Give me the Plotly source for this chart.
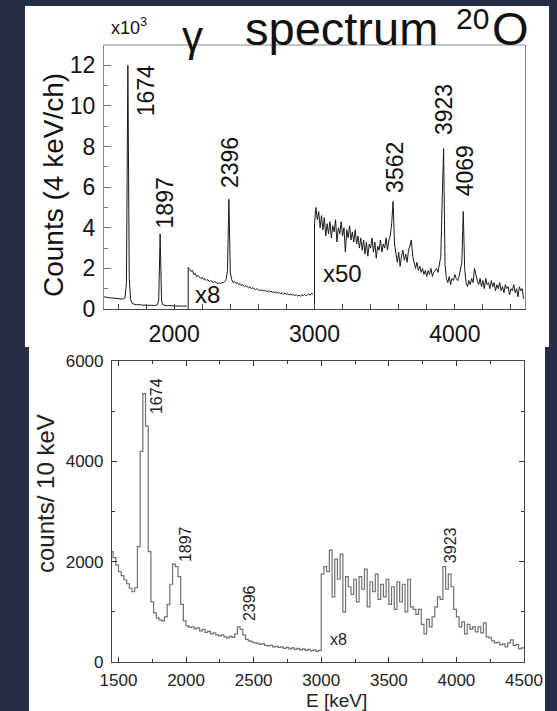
import numpy as np
import plotly.graph_objects as go

# ---------------- data ----------------
# Top panel: gamma spectrum 20O, counts (x10^3) per 4 keV channel, sampled every 10 keV
top_step = 10
seg1_start = 1500          # scale x1
seg1_vals = [0.60,0.58,0.57,0.57,0.55,0.55,0.54,0.53,0.53,0.52,
             0.51,0.50,0.50,0.49,0.50,0.55,1.30,12.0,1.50,0.45,
             0.28,0.24,0.22,0.21,0.22,0.20,0.21,0.19,0.20,0.18,
             0.19,0.18,0.19,0.17,0.18,0.18,0.17,0.18,0.20,0.45,
             3.70,0.40,0.20,0.18,0.17,0.16,0.17,0.16,0.16,0.15,
             0.16,0.15,0.15,0.14,0.15,0.14,0.14,0.15,0.13,0.14]
seg2_start = 2100          # scale x8
seg2_vals = [2.05,1.95,1.85,1.90,1.70,1.75,1.60,1.65,1.55,1.50,
             1.55,1.45,1.50,1.40,1.45,1.35,1.40,1.35,1.30,1.35,
             1.30,1.25,1.30,1.25,1.30,1.30,1.35,1.45,1.90,5.40,
             1.80,1.45,1.30,1.35,1.25,1.30,1.20,1.25,1.15,1.20,
             1.10,1.15,1.10,1.05,1.10,1.00,1.05,1.00,0.95,1.00,
             0.95,0.90,0.95,0.90,0.88,0.92,0.85,0.90,0.85,0.88,
             0.82,0.85,0.80,0.83,0.78,0.80,0.76,0.80,0.74,0.78,
             0.72,0.75,0.70,0.74,0.68,0.72,0.66,0.70,0.64,0.68,
             0.62,0.70,0.66,0.72,0.65,0.70,0.75,0.68,0.78,0.72]
seg3_start = 3000          # scale x50
seg3_vals = [4.20,5.00,4.40,4.80,4.00,4.60,3.90,4.50,3.60,4.20,
             3.70,4.30,3.50,4.10,3.80,4.40,3.30,4.00,3.70,4.30,
             3.60,4.00,2.80,3.90,3.50,4.10,3.40,3.80,3.30,3.90,
             3.20,3.60,3.00,3.50,2.90,3.40,2.70,3.30,2.60,3.20,
             3.00,3.50,2.80,3.30,2.50,3.10,2.90,3.40,2.80,3.20,
             3.00,3.50,2.90,3.40,3.60,4.20,5.30,3.20,2.60,2.30,
             2.80,2.10,2.60,2.90,2.40,2.70,2.30,2.90,3.10,3.40,
             2.60,2.20,2.00,2.30,1.90,2.10,1.80,2.00,1.70,1.90,
             1.60,1.90,1.70,2.00,1.60,1.80,1.90,2.00,1.80,2.30,
             2.60,5.40,7.90,2.20,1.50,1.30,1.60,1.20,1.50,1.40,
             1.70,1.50,1.40,1.60,1.90,2.30,4.80,2.00,1.30,1.10,
             1.40,1.20,1.50,1.30,2.00,1.60,1.40,1.20,1.50,1.10,
             1.40,1.00,1.50,1.20,1.30,1.00,1.40,1.10,1.30,0.90,
             1.20,1.00,1.30,0.90,1.10,0.80,1.20,1.00,1.10,0.70,
             1.00,0.90,1.20,0.80,1.00,0.60,1.10,0.90,1.00,0.50]
top_peaks = [1674, 1897, 2396, 3562, 3923, 4069]
top_peak_label_x = [1797, 1935, 2393, 3574, 3923, 4075]
top_peak_label_y = [10.75, 5.2, 7.2, 6.95, 9.8, 6.8]
top_xticks = [2000, 3000, 4000]
top_xminor = [1600, 1800, 2200, 2400, 2600, 2800, 3200, 3400, 3600, 3800, 4200, 4400]
top_yticks = [0, 2, 4, 6, 8, 10, 12]

# Bottom panel: counts / 10 keV, histogram with 20 keV steps
bot_start = 1440
bot_step = 20
bot_vals = [2200,2080,1930,1800,1720,1640,1560,1470,1400,1480,
            2300,4200,5350,4700,2200,1200,980,880,840,820,
            900,1150,1550,1950,1900,1700,1150,820,720,690,
            700,660,680,620,650,590,610,560,580,540,
            520,540,500,480,510,490,560,700,650,540,
            450,420,400,380,370,350,360,330,320,330,
            300,310,290,300,270,290,260,280,250,270,
            240,260,230,250,220,240,210,230,
            1750,1900,1800,2230,1300,2050,1650,2150,1000,1700,
            1500,1350,1650,1200,1700,1450,1850,1100,1600,1400,
            1750,1250,1550,1300,1650,1150,1500,1050,1600,1200,
            1550,1000,1650,1100,1050,950,1050,750,560,850,
            700,900,1100,1300,1250,1900,1450,1750,1500,1050,
            900,700,800,560,750,650,700,600,700,580,
            780,500,480,420,380,390,340,360,300,380,
            440,330,350,260,280]
bot_peaks = [1674, 1897, 2396, 3923]
bot_peak_label_x = [1777, 1992, 2466, 3953]
bot_peak_label_y = [5300, 2350, 1175, 2330]
bot_xticks = [1500, 2000, 2500, 3000, 3500, 4000, 4500]
bot_xminor = [1750, 2250, 2750, 3250, 3750, 4250]
bot_yticks = [0, 2000, 4000, 6000]
bot_yminor = [1000, 3000, 5000]

# ---------------- figure ----------------
W, H = 557, 711
def px(v): return v / W
def py(v): return 1 - v / H

BG = '#272d45'
FONT = 'Arial, Liberation Sans, sans-serif'

fig = go.Figure()

def seg_xy(start, vals):
    xs = [start] + list(start + top_step * np.arange(len(vals)))
    ys = [0] + list(vals)
    return xs, ys

for st, vals in [(seg1_start, seg1_vals), (seg2_start, seg2_vals), (seg3_start, seg3_vals)]:
    xs, ys = seg_xy(st, vals)
    if st == seg1_start:
        xs, ys = xs[1:], ys[1:]
    fig.add_trace(go.Scatter(x=xs, y=ys, mode='lines', xaxis='x', yaxis='y',
                             line=dict(color='#1a1a1a', width=1), hoverinfo='skip', showlegend=False))

bx = list(bot_start + bot_step * np.arange(len(bot_vals) + 1))
by = list(bot_vals) + [bot_vals[-1]]
fig.add_trace(go.Scatter(x=bx, y=by, mode='lines', xaxis='x2', yaxis='y2',
                         line=dict(color='#707070', width=1.2, shape='hv'),
                         hoverinfo='skip', showlegend=False))

shapes = [
    dict(type='rect', xref='paper', yref='paper', x0=px(25), x1=px(549), y0=py(347), y1=py(6),
         fillcolor='white', line=dict(width=0), layer='below'),
    dict(type='rect', xref='paper', yref='paper', x0=px(29), x1=px(545), y0=py(711), y1=py(347),
         fillcolor='white', line=dict(width=0), layer='below'),
    dict(type='line', xref='x domain', yref='y domain', x0=0, x1=1, y0=1, y1=1,
         line=dict(color='#8a8a8a', width=1.2)),
]

def A(**kw):
    d = dict(showarrow=False, xanchor='center', yanchor='middle')
    d.update(kw)
    return d

ann = []
for lab, xv, yv in zip(top_peaks, top_peak_label_x, top_peak_label_y):
    ann.append(A(x=xv, y=yv, xref='x', yref='y', text=str(lab), textangle=-90,
                 font=dict(size=23, color='#111', family=FONT)))
ann.append(A(x=2240, y=0.7, xref='x', yref='y', text='x8',
             font=dict(size=24, color='#111', family=FONT)))
ann.append(A(x=3203, y=1.75, xref='x', yref='y', text='x50',
             font=dict(size=24, color='#111', family=FONT)))
for lab, xv, yv in zip(bot_peaks, bot_peak_label_x, bot_peak_label_y):
    ann.append(A(x=xv, y=yv, xref='x2', yref='y2', text=str(lab), textangle=-90,
                 font=dict(size=16, color='#222', family=FONT)))
ann.append(A(x=3124, y=440, xref='x2', yref='y2', text='x8',
             font=dict(size=16, color='#222', family=FONT)))
# titles
ann += [
    A(x=px(129), y=py(27), xref='paper', yref='paper', text='x10<sup>3</sup>',
      font=dict(size=18, color='#111', family=FONT)),
    A(x=px(192), y=py(36), xref='paper', yref='paper', text='γ',
      font=dict(size=42, color='#111', family=FONT)),
    A(x=px(243), y=py(29), xref='paper', yref='paper', text='spectrum', xanchor='left',
      font=dict(size=47, color='#111', family=FONT)),
    A(x=px(472), y=py(19), xref='paper', yref='paper', text='20',
      font=dict(size=30, color='#111', family=FONT)),
    A(x=px(490), y=py(29), xref='paper', yref='paper', text='O', xanchor='left',
      font=dict(size=47, color='#111', family=FONT)),
    A(x=px(53), y=py(185), xref='paper', yref='paper', text='Counts (4 keV/ch)',
      textangle=-90, font=dict(size=28, color='#111', family=FONT)),
    A(x=px(45), y=py(494), xref='paper', yref='paper', text='counts/ 10 keV',
      textangle=-90, font=dict(size=24, color='#222', family=FONT)),
    A(x=px(336), y=py(700), xref='paper', yref='paper', text='E [keV]',
      font=dict(size=19, color='#222', family=FONT)),
]

fig.update_layout(
    width=W, height=H, margin=dict(l=0, r=0, t=0, b=0, autoexpand=False),
    paper_bgcolor=BG, plot_bgcolor='white', showlegend=False,
    font=dict(family=FONT, color='#111'),
    shapes=shapes, annotations=ann,
    xaxis=dict(domain=[px(104), px(525)], anchor='y', range=[1500, 4500],
               tickmode='array', tickvals=top_xticks, ticktext=[str(v) for v in top_xticks],
               ticks='inside', ticklen=5, tickcolor='#444', tickwidth=1,
               minor=dict(ticks='inside', tickvals=top_xminor, ticklen=5, tickcolor='#444'),
               showline=True, linecolor='#444', linewidth=1.2, mirror=False,
               showgrid=False, zeroline=False, tickfont=dict(size=23, color='#111'),
               ticklabelstandoff=4, automargin=False),
    yaxis=dict(domain=[py(309), py(45)], anchor='x', range=[0, 13],
               tickmode='array', tickvals=top_yticks, ticktext=[str(v) for v in top_yticks],
               ticks='inside', ticklen=7, tickcolor='#777', tickwidth=1,
               minor=dict(ticks='inside', tickvals=[1, 3, 5, 7, 9, 11], ticklen=4, tickcolor='#777'),
               showline=True, linecolor='#8a8a8a', linewidth=1.2, mirror=True,
               showgrid=False, zeroline=False, tickfont=dict(size=23, color='#111'),
               ticklabelstandoff=3, automargin=False),
    xaxis2=dict(domain=[px(112), px(524)], anchor='y2', range=[1452, 4500],
                tickmode='array', tickvals=bot_xticks, ticktext=[str(v) for v in bot_xticks],
                ticks='inside', ticklen=5, tickcolor='#333', mirror='ticks',
                minor=dict(ticks='inside', tickvals=bot_xminor, ticklen=3, tickcolor='#333'),
                showline=True, linecolor='#444', linewidth=1.2,
                showgrid=False, zeroline=False, tickfont=dict(size=17, color='#222'),
                ticklabelstandoff=2, automargin=False),
    yaxis2=dict(domain=[py(662), py(361)], anchor='x2', range=[0, 6000],
                tickmode='array', tickvals=bot_yticks, ticktext=[str(v) for v in bot_yticks],
                ticks='inside', ticklen=5, tickcolor='#333', mirror='ticks',
                minor=dict(ticks='inside', tickvals=bot_yminor, ticklen=3, tickcolor='#333'),
                showline=True, linecolor='#444', linewidth=1.2,
                showgrid=False, zeroline=False, tickfont=dict(size=17, color='#222'),
                ticklabelstandoff=4, automargin=False),
)

fig.write_html('out.html', config={'displayModeBar': False},
               post_script="document.body.style.margin='0px';document.body.style.overflow='hidden';")
